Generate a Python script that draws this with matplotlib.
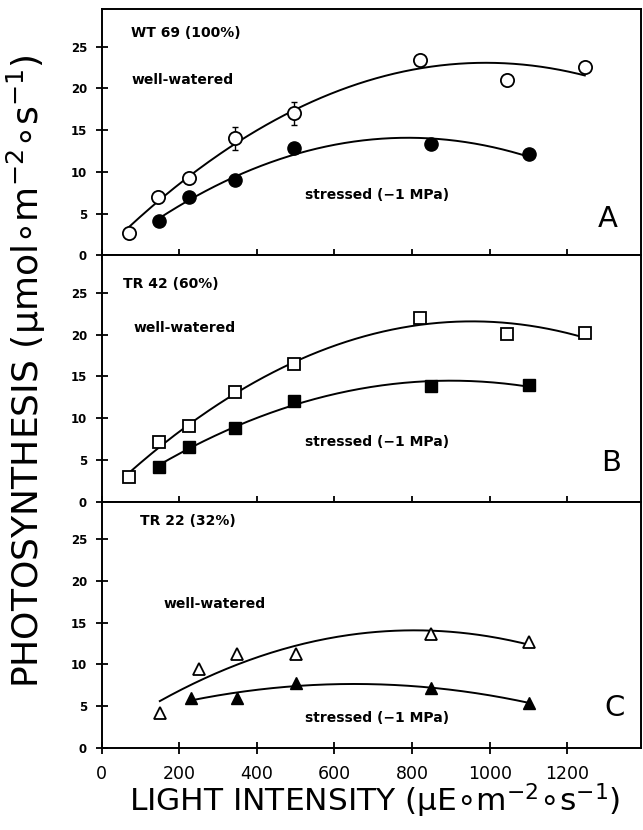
import numpy as np
import matplotlib.pyplot as plt

# panel A - WT 69
a_ww_x = [70, 145, 225, 345, 495, 820, 1045, 1245]
a_ww_y = [2.7, 7.0, 9.3, 14.0, 17.0, 23.4, 21.0, 22.5]
a_ww_err = [0, 0, 0, 1.4, 1.4, 0, 0, 0]
a_st_x = [148, 225, 345, 495, 850, 1100]
a_st_y = [4.1, 7.0, 9.0, 12.8, 13.3, 12.1]

# panel B - TR 42
b_ww_x = [70, 148, 225, 345, 495, 820, 1045, 1245]
b_ww_y = [3.0, 7.1, 9.0, 13.1, 16.5, 22.0, 20.1, 20.2]
b_st_x = [148, 225, 345, 495, 850, 1100]
b_st_y = [4.2, 6.5, 8.8, 12.1, 13.9, 14.0]

# panel C - TR 22
c_ww_x = [150, 250, 350, 500, 850, 1100]
c_ww_y = [4.2, 9.4, 11.2, 11.2, 13.6, 12.7]
c_st_x = [230, 350, 500, 850, 1100]
c_st_y = [6.0, 6.0, 7.8, 7.2, 5.4]

titles = ["WT 69 (100%)", "TR 42 (60%)", "TR 22 (32%)"]
letters = ["A", "B", "C"]
xticks = [0, 200, 400, 600, 800, 1000, 1200]
yticks = [0, 5, 10, 15, 20, 25]


def fit_line(ax, x, y):
    c = np.polyfit(x, y, 2)
    xs = np.linspace(min(x), max(x), 200)
    ax.plot(xs, np.polyval(c, xs), color="black", lw=1.4, zorder=2)


fig = plt.figure(figsize=(6.43, 8.30), dpi=100)
h = 0.2968
axes = [fig.add_axes([0.158, 0.0988 + (2 - i) * h, 0.839, h]) for i in range(3)]

panels = [
    (a_ww_x, a_ww_y, a_st_x, a_st_y, "o", 9.5),
    (b_ww_x, b_ww_y, b_st_x, b_st_y, "s", 8.5),
    (c_ww_x, c_ww_y, c_st_x, c_st_y, "^", 9),
]

for i, ax in enumerate(axes):
    wx, wy, sx, sy, m, ms = panels[i]
    fit_line(ax, wx, wy)
    fit_line(ax, sx, sy)
    if i == 0:
        ax.errorbar(wx, wy, yerr=a_ww_err, fmt="none", ecolor="black",
                    elinewidth=1, capsize=2, zorder=2)
    ax.plot(wx, wy, m, ms=ms, mfc="white", mec="black", mew=1.3, ls="none", zorder=3)
    ax.plot(sx, sy, m, ms=ms, mfc="black", mec="black", ls="none", zorder=3)

    ax.set_xlim(0, 1390)
    ax.set_ylim(0, 29.5)
    ax.set_yticks(yticks)
    ax.set_xticks(xticks)
    ax.tick_params(axis="both", direction="inout", length=9, width=1.3)
    ax.tick_params(axis="y", pad=6)
    for lab in ax.get_yticklabels():
        lab.set_fontsize(8.5)
        lab.set_fontweight("bold")
    if i < 2:
        ax.tick_params(axis="x", labelbottom=False)
    else:
        ax.tick_params(axis="x", labelsize=12.5, pad=8)
    for sp in ax.spines.values():
        sp.set_linewidth(1.4)

    tx = [75, 55, 100][i]
    ty = [26.6, 26.1, 27.2][i]
    ax.text(tx, ty, titles[i], fontsize=10, fontweight="bold", va="center", ha="left")
    wwx = [78, 83, 160][i]
    wwy = [21.0, 20.8, 17.2][i]
    ax.text(wwx, wwy, "well-watered", fontsize=10, fontweight="bold", va="center", ha="left")
    sty = [7.2, 7.1, 3.6][i]
    ax.text(525, sty, "stressed (\u22121 MPa)", fontsize=10, fontweight="bold",
            va="center", ha="left")
    ax.text([1305, 1312, 1322][i], [4.4, 4.6, 4.8][i], letters[i], fontsize=21,
            va="center", ha="center")

fig.text(0.041, 0.553, "PHOTOSYNTHESIS (\u03bcmol\u2218m$^{-2}$\u2218s$^{-1}$)",
         rotation=90, fontsize=26, va="center", ha="center")
fig.text(0.583, 0.022, "LIGHT INTENSITY (\u03bcE\u2218m$^{-2}$\u2218s$^{-1}$)",
         fontsize=22.5, va="baseline", ha="center")

fig.savefig("out.png", dpi=100)
